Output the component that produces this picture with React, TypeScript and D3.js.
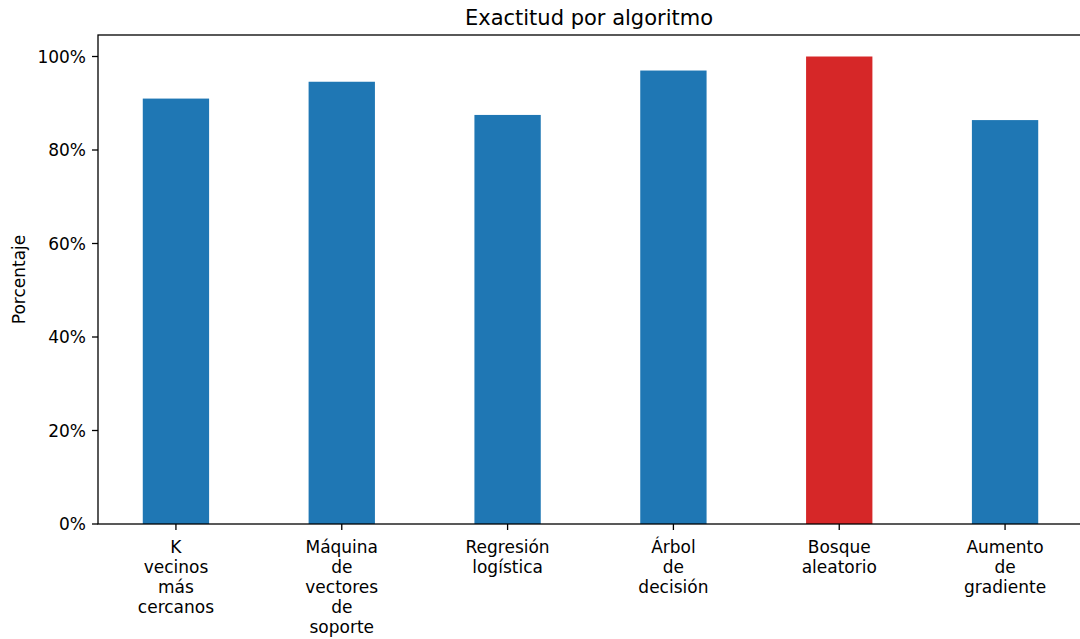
import React, { useEffect, useRef } from "react";
import * as d3 from "d3";

const categories: string[][] = [
  ["K", "vecinos", "más", "cercanos"],
  ["Máquina", "de", "vectores", "de", "soporte"],
  ["Regresión", "logística"],
  ["Árbol", "de", "decisión"],
  ["Bosque", "aleatorio"],
  ["Aumento", "de", "gradiente"],
];
const accuracy: number[] = [91.0, 94.6, 87.5, 97.0, 100.0, 86.4];
const highlighted: boolean[] = [false, false, false, false, true, false];
const yTicks: number[] = [0, 20, 40, 60, 80, 100];

const W = 1080;
const H = 639;
const FONT = "DejaVu Sans";

export default function App() {
  const ref = useRef<SVGSVGElement>(null);

  useEffect(() => {
    const svg = d3.select(ref.current);
    svg.selectAll("*").remove();

    const left = 98;
    const right = 1083;
    const top = 35;
    const bottom = 524;

    const n = categories.length;
    const x = d3.scaleLinear().domain([-0.47, n - 1 + 0.47]).range([left, right]);
    const y = d3.scaleLinear().domain([0, 104.6]).range([bottom, top]);
    const barW = x(0.4) - x(0);

    svg
      .append("g")
      .selectAll("rect")
      .data(accuracy)
      .join("rect")
      .attr("x", (_, i) => x(i) - barW / 2)
      .attr("width", barW)
      .attr("y", (d) => y(d))
      .attr("height", (d) => y(0) - y(d))
      .attr("fill", (_, i) => (highlighted[i] ? "#d62728" : "#1f77b4"));

    // spines
    const spine = svg.append("g").attr("stroke", "#000").attr("stroke-width", 1.3).attr("fill", "none");
    spine.append("rect").attr("x", left).attr("y", top).attr("width", right - left).attr("height", bottom - top);

    // y axis ticks and labels
    const yg = svg.append("g");
    yTicks.forEach((t) => {
      yg.append("line")
        .attr("x1", left - 6)
        .attr("x2", left)
        .attr("y1", y(t))
        .attr("y2", y(t))
        .attr("stroke", "#000")
        .attr("stroke-width", 1.3);
      yg.append("text")
        .attr("x", left - 12)
        .attr("y", y(t))
        .attr("dy", "0.36em")
        .attr("text-anchor", "end")
        .attr("font-family", FONT)
        .attr("font-size", 17)
        .attr("fill", "#000")
        .text(`${t}%`);
    });

    // x axis ticks and multi-line labels
    const xg = svg.append("g");
    categories.forEach((lines, i) => {
      xg.append("line")
        .attr("x1", x(i))
        .attr("x2", x(i))
        .attr("y1", bottom)
        .attr("y2", bottom + 6)
        .attr("stroke", "#000")
        .attr("stroke-width", 1.3);
      const txt = xg
        .append("text")
        .attr("text-anchor", "middle")
        .attr("font-family", FONT)
        .attr("font-size", 17)
        .attr("fill", "#000");
      lines.forEach((ln, j) => {
        txt.append("tspan").attr("x", x(i)).attr("y", 553 + j * 20).text(ln);
      });
    });

    svg
      .append("text")
      .attr("x", (left + 1080 + 98 - 98) / 2 + 0)
      .attr("y", 25)
      .attr("text-anchor", "middle")
      .attr("font-family", FONT)
      .attr("font-size", 21)
      .attr("fill", "#000")
      .text("Exactitud por algoritmo");

    svg
      .append("text")
      .attr("transform", `translate(25, ${(top + bottom) / 2}) rotate(-90)`)
      .attr("text-anchor", "middle")
      .attr("font-family", FONT)
      .attr("font-size", 17)
      .attr("fill", "#000")
      .text("Porcentaje");
  }, []);

  return (
    <svg
      ref={ref}
      width={W}
      height={H}
      style={{ position: "absolute", left: 0, top: 0, background: "#fff" }}
    />
  );
}
